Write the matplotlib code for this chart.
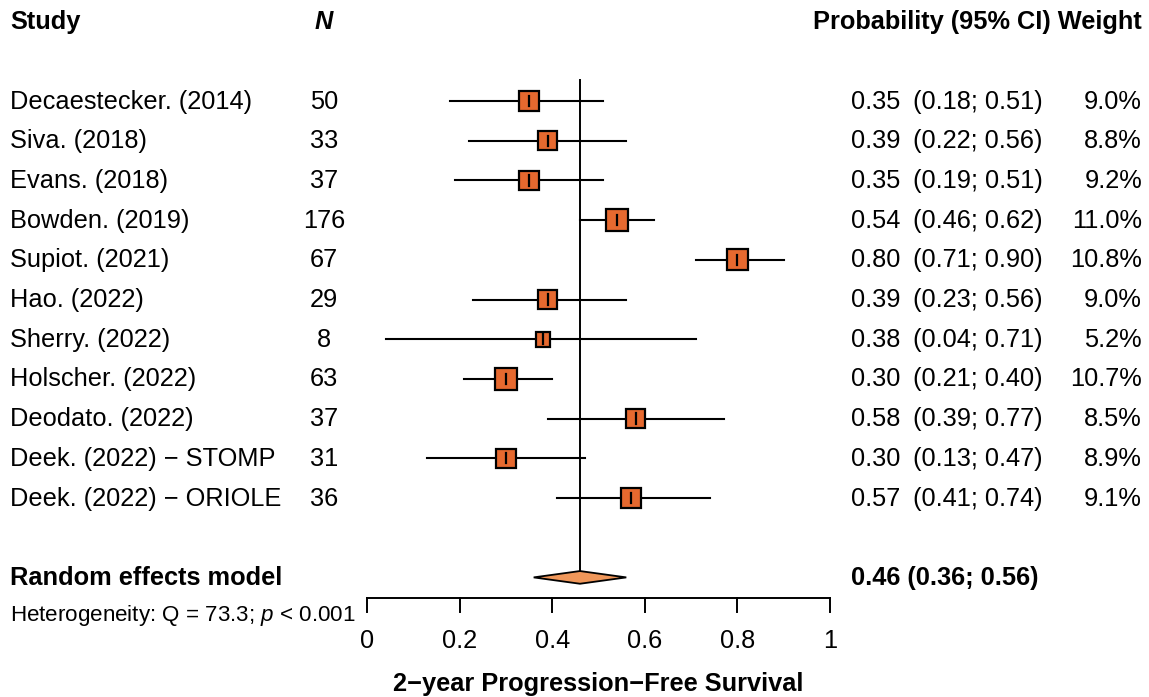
import matplotlib

matplotlib.use("Agg")
import matplotlib.pyplot as plt
from matplotlib.patches import Rectangle, Polygon

plt.rcParams["font.family"] = ["Liberation Sans", "DejaVu Sans"]
plt.rcParams["mathtext.fontset"] = "custom"
plt.rcParams["mathtext.rm"] = "Liberation Sans"
plt.rcParams["mathtext.it"] = "Liberation Sans:italic"

# data
studies = [
    "Decaestecker. (2014)", "Siva. (2018)", "Evans. (2018)", "Bowden. (2019)",
    "Supiot. (2021)", "Hao. (2022)", "Sherry. (2022)", "Holscher. (2022)",
    "Deodato. (2022)", "Deek. (2022) \u2212 STOMP", "Deek. (2022) \u2212 ORIOLE",
]
n_patients = [50, 33, 37, 176, 67, 29, 8, 63, 37, 31, 36]
estimate = [0.35, 0.39, 0.35, 0.54, 0.80, 0.39, 0.38, 0.30, 0.58, 0.30, 0.57]
ci_low = [0.18, 0.22, 0.19, 0.46, 0.71, 0.23, 0.04, 0.21, 0.39, 0.13, 0.41]
ci_high = [0.51, 0.56, 0.51, 0.62, 0.90, 0.56, 0.71, 0.40, 0.77, 0.47, 0.74]
weights = [9.0, 8.8, 9.2, 11.0, 10.8, 9.0, 5.2, 10.7, 8.5, 8.9, 9.1]
pooled = (0.46, 0.36, 0.56)
q_stat = 73.3
x_ticks = [0, 0.2, 0.4, 0.6, 0.8, 1]
x_tick_labels = ["0", "0.2", "0.4", "0.6", "0.8", "1"]

W, H = 1149, 697
fig = plt.figure(figsize=(W / 100, H / 100), dpi=100)
ax = fig.add_axes([0, 0, 1, 1])

# pixel layout: x=0 at 367px, x=1 at 830px; row 0 at 101px, step 39.7px
px_x0, px_unit = 367, 463
px_y0, px_row = 101, 39.7
ax.set_xlim(-px_x0 / px_unit, (W - px_x0) / px_unit)
ax.set_ylim((H - px_y0) / px_row, -px_y0 / px_row)
ax.axis("off")

box_col = "#E6692F"
dia_col = "#F0975A"
fs = 18.3
va = "center_baseline"
dy = -2 / px_row  # small nudge so text centres sit on the row
x_name = (10 - px_x0) / px_unit
x_n = (324 - px_x0) / px_unit
x_est = (851 - px_x0) / px_unit
x_ci = (913 - px_x0) / px_unit
x_w = (1142 - px_x0) / px_unit

summary_row = len(studies) + 1

# reference line at pooled estimate
ax.plot([pooled[0], pooled[0]], [-0.53, summary_row - 0.16], color="black", lw=1.4, zorder=1)

for i, (name, n, est, lo, hi, w) in enumerate(
    zip(studies, n_patients, estimate, ci_low, ci_high, weights)
):
    ax.plot([lo, hi], [i, i], color="black", lw=1.5, zorder=2)
    side = 6.5 * w ** 0.5
    hw = side / 2 / px_unit
    hh = side / 2 / px_row
    ax.add_patch(Rectangle((est - hw, i - hh), 2 * hw, 2 * hh, facecolor=box_col,
                           edgecolor="black", lw=1.6, zorder=3))
    ax.plot([est, est], [i - 0.13, i + 0.13], color="black", lw=1.6, zorder=4)
    ty = i + dy
    ax.text(x_name, ty, name, fontsize=fs, ha="left", va=va)
    ax.text(x_n, ty, str(n), fontsize=fs, ha="center", va=va)
    ax.text(x_est, ty, f"{est:.2f}", fontsize=fs, ha="left", va=va)
    ax.text(x_ci, ty, f"({lo:.2f}; {hi:.2f})", fontsize=fs, ha="left", va=va)
    ax.text(x_w, ty, f"{w:.1f}%", fontsize=fs, ha="right", va=va)

# pooled diamond
est, lo, hi = pooled
ax.add_patch(Polygon([(lo, summary_row), (est, summary_row - 0.16), (hi, summary_row),
                      (est, summary_row + 0.16)], closed=True, facecolor=dia_col,
                     edgecolor="black", lw=1.3, zorder=3))
ax.text(x_name, summary_row + dy, "Random effects model", fontsize=fs, fontweight="bold",
        ha="left", va=va)
ax.text(x_est, summary_row + dy, f"{est:.2f} ({lo:.2f}; {hi:.2f})", fontsize=fs,
        fontweight="bold", ha="left", va=va)

# headers
head_row = -2 + dy
ax.text(x_name, head_row, "Study", fontsize=fs, fontweight="bold", ha="left", va=va)
ax.text(x_n, head_row, "N", fontsize=fs, fontweight="bold", fontstyle="italic",
        ha="center", va=va)
ax.text(x_w, head_row, "Probability (95% CI) Weight", fontsize=fs, fontweight="bold",
        ha="right", va=va)

# x axis
axis_row = (598 - px_y0) / px_row
tick_end = (612 - px_y0) / px_row
ax.plot([x_ticks[0], x_ticks[-1]], [axis_row, axis_row], color="black", lw=1.4)
for t, lab in zip(x_ticks, x_tick_labels):
    ax.plot([t, t], [axis_row, tick_end], color="black", lw=1.4)
    ax.text(t, (639 - px_y0) / px_row, lab, fontsize=fs, ha="center", va=va)
ax.text(0.5, (682 - px_y0) / px_row, "2\u2212year Progression\u2212Free Survival",
        fontsize=fs, fontweight="bold", ha="center", va=va)

ax.text(x_name, (612 - px_y0) / px_row, f"Heterogeneity: Q = {q_stat}; $p$ < 0.001",
        fontsize=16.1, ha="left", va=va)

fig.savefig("out.png", dpi=100, facecolor="white")
